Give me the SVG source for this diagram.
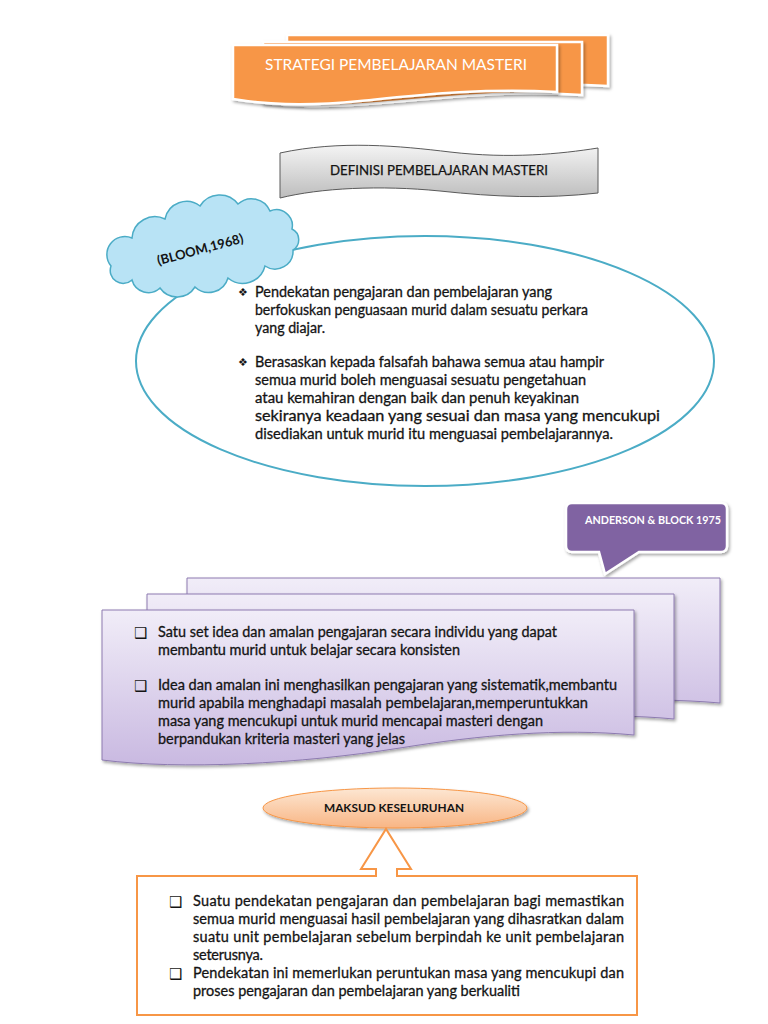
<svg xmlns="http://www.w3.org/2000/svg" width="768" height="1024" viewBox="0 0 768 1024">
<style>
.t{font-family:Lato,"Open Sans","Liberation Sans",sans-serif;fill:#141414}
.body{font-size:14.5px;stroke:#141414;stroke-width:0.3px}
.bul{font-family:"DejaVu Sans",sans-serif;fill:#141414}
</style>
<defs>
<filter id="sh" x="-10%" y="-20%" width="130%" height="150%">
<feDropShadow dx="1.5" dy="2" stdDeviation="1.8" flood-color="#000" flood-opacity="0.35"/>
</filter>
<linearGradient id="gray" x1="0" y1="0" x2="0" y2="1">
<stop offset="0" stop-color="#f4f4f4"/><stop offset="1" stop-color="#bdbdbd"/>
</linearGradient>
<linearGradient id="lav" x1="0" y1="0" x2="0" y2="1">
<stop offset="0" stop-color="#f1edf8"/><stop offset="1" stop-color="#c9b9e1"/>
</linearGradient>
<linearGradient id="peach" x1="0" y1="0" x2="0" y2="1">
<stop offset="0" stop-color="#fde7d3"/><stop offset="1" stop-color="#f8b584"/>
</linearGradient>
</defs>

<g id="title">
<path d="M287,35 H608 V86 C540,82 470,88 400,94 C340,99 310,98 287,95 Z" fill="#f79646" stroke="#fff" stroke-width="2.5" filter="url(#sh)"/>
<path d="M263,42 H582 V95 C510,90 450,97 380,103 C320,108 290,106 263,103 Z" fill="#f79646" stroke="#fff" stroke-width="2.5" filter="url(#sh)"/>
<path d="M233,45 H557 V92 C480,88 420,95 360,101 C300,107 262,104 233,99 Z" fill="#f79646" stroke="#fff" stroke-width="2.5" filter="url(#sh)"/>
<text x="396" y="70" text-anchor="middle" font-family="Lato,'Open Sans',sans-serif" font-size="15" fill="#fff" textLength="262" lengthAdjust="spacingAndGlyphs">STRATEGI PEMBELAJARAN MASTERI</text>
</g>

<g id="definisi">
<path d="M280,153 C340,140 400,146 450,152 C510,159 560,154 598,148 V193 C545,199 495,197 440,191 C380,185 320,188 280,198 Z" fill="url(#gray)" stroke="#5a5a5a" stroke-width="1"/>
<text x="439" y="175" text-anchor="middle" class="t" font-size="12.5" stroke="#141414" stroke-width="0.25" textLength="218" lengthAdjust="spacingAndGlyphs">DEFINISI PEMBELAJARAN MASTERI</text>
</g>

<g id="bloom-ellipse">
<ellipse cx="425" cy="361" rx="289" ry="125" fill="#fff" stroke="#4bacc6" stroke-width="2"/>
<text class="bul" x="238" y="296" font-size="11">❖</text>
<text class="t body" x="255" y="297" textLength="297" lengthAdjust="spacingAndGlyphs">Pendekatan pengajaran dan pembelajaran yang</text>
<text class="t body" x="255" y="315" textLength="333" lengthAdjust="spacingAndGlyphs">berfokuskan penguasaan murid dalam sesuatu perkara</text>
<text class="t body" x="255" y="333" textLength="70" lengthAdjust="spacingAndGlyphs">yang diajar.</text>
<text class="bul" x="238" y="366" font-size="11">❖</text>
<text class="t body" x="255" y="367" textLength="349" lengthAdjust="spacingAndGlyphs">Berasaskan kepada falsafah bahawa semua atau hampir</text>
<text class="t body" x="255" y="385" textLength="331" lengthAdjust="spacingAndGlyphs">semua murid boleh menguasai sesuatu pengetahuan</text>
<text class="t body" x="255" y="403" textLength="324" lengthAdjust="spacingAndGlyphs">atau kemahiran dengan baik dan penuh keyakinan</text>
<text class="t body" x="255" y="421" textLength="405" lengthAdjust="spacingAndGlyphs">sekiranya keadaan yang sesuai dan masa yang mencukupi</text>
<text class="t body" x="255" y="439" textLength="358" lengthAdjust="spacingAndGlyphs">disediakan untuk murid itu menguasai pembelajarannya.</text>
</g>

<g id="bloom-cloud">
<path d="M111,266 A18,18 0 0 1 132,238 A23,23 0 0 1 165,219 A22,22 0 0 1 200,206 A23,23 0 0 1 238,204 A20,20 0 0 1 270,211 A16,16 0 0 1 292,229 A12,12 0 0 1 293,250 A18,18 0 0 1 265,266 A23,23 0 0 1 228,278 A20,20 0 0 1 195,287 A21,21 0 0 1 160,288 A17,17 0 0 1 132,280 A13,13 0 0 1 111,266 Z" fill="#b8e3f5" stroke="#4bacc6" stroke-width="1.5"/>
<text x="200" y="254" text-anchor="middle" transform="rotate(-15 200 249)" class="t" font-size="13" font-weight="bold">(BLOOM,1968)</text>
</g>

<g id="anderson-block">
<path d="M572,503 H721 Q727,503 727,509 V546 Q727,552 721,552 H639 L605,574 L599,552 H572 Q566,552 566,546 V509 Q566,503 572,503 Z" fill="#8064a2" stroke="#fff" stroke-width="2.5" filter="url(#sh)"/>
<text x="653" y="524" text-anchor="middle" font-family="Lato,'Open Sans',sans-serif" font-size="11" font-weight="bold" fill="#fff" textLength="136" lengthAdjust="spacingAndGlyphs">ANDERSON &amp; BLOCK 1975</text>
</g>

<g id="anderson-stack">
<path d="M187,578 H720 V703 C640,696 560,702 480,714 C380,730 270,734 187,728 Z" fill="url(#lav)" stroke="#8d7bb0" stroke-width="1" filter="url(#sh)"/>
<path d="M147,594 H674 V719 C600,712 520,718 440,730 C330,746 220,750 147,744 Z" fill="url(#lav)" stroke="#8d7bb0" stroke-width="1" filter="url(#sh)"/>
<path d="M102,610 H634 V735 C560,728 480,735 400,748 C300,764 180,770 102,760 Z" fill="url(#lav)" stroke="#8d7bb0" stroke-width="1" filter="url(#sh)"/>
<text class="bul" x="134" y="638" font-size="15">❑</text>
<text class="t body" x="158" y="637" textLength="399" lengthAdjust="spacingAndGlyphs">Satu set idea dan amalan pengajaran secara individu yang dapat</text>
<text class="t body" x="158" y="655" textLength="302" lengthAdjust="spacingAndGlyphs">membantu murid untuk belajar secara konsisten</text>
<text class="bul" x="134" y="691" font-size="15">❑</text>
<text class="t body" x="158" y="690" textLength="459" lengthAdjust="spacingAndGlyphs">Idea dan amalan ini menghasilkan pengajaran yang sistematik,membantu</text>
<text class="t body" x="158" y="708" textLength="430" lengthAdjust="spacingAndGlyphs">murid apabila menghadapi masalah pembelajaran,memperuntukkan</text>
<text class="t body" x="158" y="726" textLength="385" lengthAdjust="spacingAndGlyphs">masa yang mencukupi untuk murid mencapai masteri dengan</text>
<text class="t body" x="158" y="744" textLength="247" lengthAdjust="spacingAndGlyphs">berpandukan kriteria masteri yang jelas</text>
</g>

<g id="maksud">
<ellipse cx="395" cy="808" rx="132" ry="20" fill="url(#peach)" stroke="#f79646" stroke-width="1" filter="url(#sh)"/>
<text x="394" y="812" text-anchor="middle" class="t" font-size="11.5" font-weight="bold" textLength="140" lengthAdjust="spacingAndGlyphs">MAKSUD KESELURUHAN</text>
</g>

<g id="connectors">
<path d="M137,876 H376 V869 H361 L386,829 L411,869 H397 V876 H637 V1015 H137 Z" fill="#fff" stroke="#f79646" stroke-width="2"/>
</g>

<g id="maksud-box">
<text class="bul" x="169" y="907" font-size="15">❑</text>
<text class="t body" x="193" y="906" textLength="431" lengthAdjust="spacing">Suatu pendekatan pengajaran dan pembelajaran bagi memastikan</text>
<text class="t body" x="193" y="924" textLength="431" lengthAdjust="spacing">semua murid menguasai hasil pembelajaran yang dihasratkan dalam</text>
<text class="t body" x="193" y="942" textLength="431" lengthAdjust="spacing">suatu unit pembelajaran sebelum berpindah ke unit pembelajaran</text>
<text class="t body" x="193" y="960" textLength="70" lengthAdjust="spacing">seterusnya.</text>
<text class="bul" x="169" y="979" font-size="15">❑</text>
<text class="t body" x="193" y="978" textLength="431" lengthAdjust="spacing">Pendekatan ini memerlukan peruntukan masa yang mencukupi dan</text>
<text class="t body" x="193" y="996" textLength="327" lengthAdjust="spacingAndGlyphs">proses pengajaran dan pembelajaran yang berkualiti</text>
</g>
</svg>
